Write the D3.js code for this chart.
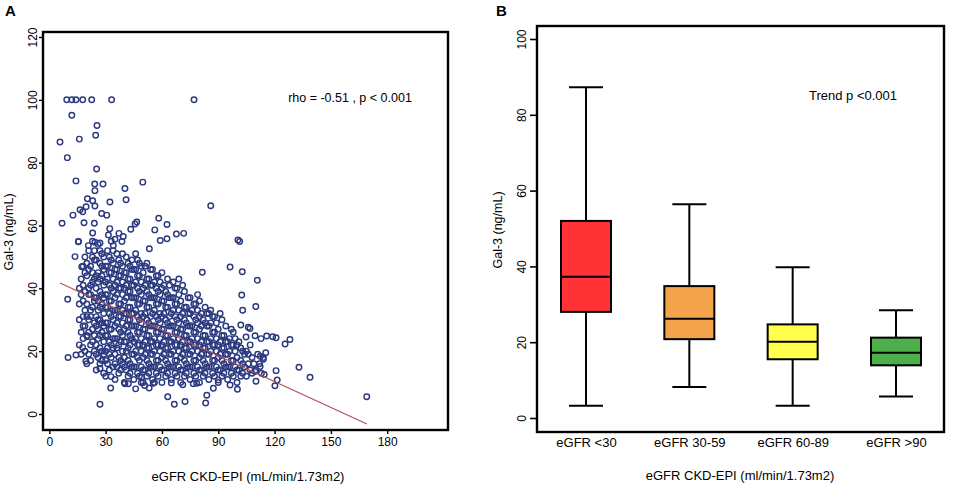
<!DOCTYPE html>
<html>
<head>
<meta charset="utf-8">
<script src="https://cdn.jsdelivr.net/npm/d3@7"></script>
<style>
  html, body { margin: 0; padding: 0; background: #fff; }
  svg { display: block; font-family: "Liberation Sans", Arial, Helvetica, sans-serif; }
</style>
</head>
<body>
<svg id="chart" width="957" height="488"></svg>
<script>
// ---------------- Panel A data (eGFR, Gal-3) ----------------
const xTicksA = [0, 30, 60, 90, 120, 150, 180];
const yTicksA = [0, 20, 40, 60, 80, 100, 120];

// scattered points outside the dense cloud
const outlierPoints = [
  [9.3,100],[12,100],[14.2,100],[17.8,100],[22.6,100],[33.2,100],[77.1,100],
  [12,95.1],[25.4,91.8],[24.7,88.7],[5.7,86.6],[16,87.5],[9.6,81.6],[25.2,78],
  [14.2,74.2],[24.2,73.2],[28.6,73.2],[24.3,71.1],[49.8,73.8],[40.3,71.8],[40.9,68.2],
  [32.3,67.5],[20.3,68.5],[23.1,67.9],[19.6,66],[24.3,66.2],[16.4,65],[17.8,64.4],
  [12.6,63.3],[27.9,63.8],[30.6,63.3],[86,66.3],[6.8,60.7],[18.5,60.9],[24,60.7],
  [32.2,59],[31.5,57],[23.1,57.6],[37.1,57.5],[35,55.6],[39.4,56.5],[43.4,58.8],
  [46.6,61.1],[45.7,60.5],[58.3,62.3],[62.7,60.3],[56.2,58.6],[67.7,57.3],[71.6,57.5],
  [59.1,55.2],[62.7,55.8],[53.3,52.6],[100.5,55.4],[101.4,54.9],[15.5,54.8],[20.8,53.6],
  [27,54.4],[34.1,53.6],[24.3,54.7],[38.7,54.9],
  [96.3,46.8],[102.8,45.3],[81.5,45.1],[110.8,42.6],[102.5,37.9],[110,34.2],[103,33],
  [102,28.3],[106,27.6],[106.9,27.2],[104.8,24.5],[109.6,24.9],[112.8,24],[115.8,24.8],
  [119,24.6],[120.8,24.3],[125.6,22.3],[128.2,23.7],[133,14.9],[138.9,11.7],[169.1,5.5],
  [120.8,13.8],[121.4,10.8],[120.2,9],[114.5,12.6],[110.1,10.4],[112.3,15.1],[114,17.4],
  [115.3,19.5],[112.4,18.4],[109.6,13.5],
  [27,3.1],[66.6,3.1],[72.3,4],[83.3,3.5],[83.9,6],[63.1,5.5],[32.7,8.3],[46,8],
  [53.2,8.3],[87.4,8.2],[100.2,7.9],[10,18],[14.2,18.8],[9.8,36.5],[27,14.5],[32.9,11.9],
  [40.3,9.6],[42.1,9.6],[19.5,16.8],[17.8,21.2],[20.2,24.6],[17.3,46.9],[13.7,50.1],
  [15.5,54.9],[96.3,9.2],[76.7,9.6],[78.5,9.8],[71.1,9.3],[65,9.9],[55.4,9.8],[50.8,9.1],
  [49.2,11.7],[90,10.8]
];

// dense cloud of points
const cloudPoints = [
  [16,22],[17,26],[18,31],[16,35],[19,39],[17,43],[18,47],[19,20],[18,24],[19,28],[16,30],[19,33],[17,38],[18,41],[19,45],[16,40],[18,36],[19,50],[17,19],[18,28],
  [20,16],[21,19],[22,22],[20,25],[23,27],[21,30],[22,33],[20,35],[24,37],[21,40],[23,42],[20,44],[22,47],[24,49],[21,52],[23,55],[22,17],[24,20],[23,23],[21,26],[24,29],[22,31],[23,34],[24,36],[21,38],[22,41],[24,43],[21,46],[23,50],[20,48],[24,25],[20,31],[22,38],[23,45],[24,52],
  [25,14],[27,16],[26,18],[28,20],[25,22],[29,23],[27,25],[26,27],[28,29],[25,31],[29,32],[27,34],[26,36],[28,38],[25,40],[29,41],[27,43],[26,45],[28,47],[25,49],[29,50],[27,52],[26,54],[28,17],[29,19],[25,19],[27,21],[26,24],[28,26],[29,28],[25,28],[27,30],[26,33],[28,35],[29,37],[25,37],[27,39],[26,42],[28,44],[29,46],[25,44],[27,48],[28,51],[26,30],[29,13],
  [30,12],[32,14],[31,16],[33,18],[30,20],[34,21],[32,23],[31,25],[33,27],[30,29],[34,30],[32,32],[31,34],[33,36],[30,38],[34,39],[32,41],[31,43],[33,45],[30,47],[34,48],[32,50],[31,52],[33,55],[34,15],[30,17],[32,19],[33,22],[31,21],[34,24],[30,25],[32,27],[31,29],[33,31],[34,33],[30,34],[32,36],[31,38],[33,40],[34,43],[30,42],[32,45],[31,47],[33,49],[34,52],
  [35,11],[37,13],[36,15],[38,17],[35,19],[39,20],[37,22],[36,24],[38,26],[35,28],[39,29],[37,31],[36,33],[38,35],[35,37],[39,38],[37,40],[36,42],[38,44],[35,46],[39,47],[37,49],[36,51],[38,14],[39,16],[35,16],[37,18],[36,21],[38,23],[39,25],[35,24],[37,27],[36,29],[38,31],[39,33],[35,33],[37,35],[36,38],[38,40],[39,42],[35,41],[37,44],[38,48],[36,46],[39,51],
  [40,10],[42,12],[41,14],[43,16],[40,18],[44,19],[42,21],[41,23],[43,25],[40,27],[44,28],[42,30],[41,32],[43,34],[40,36],[44,37],[42,39],[41,41],[43,43],[40,45],[44,46],[42,48],[41,50],[43,13],[44,15],[40,15],[42,17],[41,20],[43,22],[44,24],[40,23],[42,26],[41,28],[43,30],[44,32],[40,32],[42,34],[41,37],[43,39],[44,41],[40,40],[42,43],[43,47],[41,45],[44,49],
  [45,11],[47,13],[46,15],[48,17],[45,19],[49,20],[47,22],[46,24],[48,26],[45,28],[49,29],[47,31],[46,33],[48,35],[45,37],[49,38],[47,40],[46,42],[48,44],[45,46],[49,47],[47,49],[46,51],[48,12],[49,15],[45,15],[47,18],[46,20],[48,22],[49,24],[45,23],[47,26],[46,28],[48,30],[49,32],[45,32],[47,35],[46,37],[48,39],[49,42],[45,41],[47,44],[48,48],[46,46],[49,10],
  [50,10],[52,12],[51,14],[53,16],[50,18],[54,19],[52,21],[51,23],[53,25],[50,27],[54,28],[52,30],[51,32],[53,34],[50,36],[54,37],[52,39],[51,41],[53,43],[50,45],[54,46],[52,48],[53,13],[54,15],[50,14],[52,17],[51,19],[53,21],[54,23],[50,22],[52,25],[51,27],[53,29],[54,31],[50,31],[52,34],[51,36],[53,38],[54,41],[50,40],[52,43],[51,47],
  [55,11],[57,13],[56,15],[58,17],[55,19],[59,20],[57,22],[56,24],[58,26],[55,28],[59,29],[57,31],[56,33],[58,35],[55,37],[59,38],[57,40],[56,42],[58,44],[55,46],[58,12],[59,15],[55,15],[57,17],[56,20],[58,22],[59,24],[55,23],[57,26],[56,28],[58,30],[59,32],[55,32],[57,35],[56,37],[58,39],[59,42],[55,41],[57,44],[56,10],
  [60,10],[62,12],[61,14],[63,16],[60,18],[64,19],[62,21],[61,23],[63,25],[60,27],[64,28],[62,30],[61,32],[63,34],[60,36],[64,37],[62,39],[61,41],[63,43],[60,45],[63,13],[64,15],[60,14],[62,17],[61,19],[63,21],[64,23],[60,22],[62,25],[61,27],[63,29],[64,31],[60,31],[62,34],[61,36],[63,38],[64,41],[60,40],
  [65,11],[67,13],[66,15],[68,17],[65,19],[69,20],[67,22],[66,24],[68,26],[65,28],[69,29],[67,31],[66,33],[68,35],[65,37],[69,38],[67,40],[66,42],[68,12],[69,15],[65,15],[67,17],[66,20],[68,22],[69,24],[65,23],[67,26],[66,28],[68,30],[69,33],[65,32],[67,35],[66,37],[68,40],[69,43],
  [70,10],[72,12],[71,14],[73,16],[70,18],[74,19],[72,21],[71,23],[73,25],[70,27],[74,28],[72,30],[71,32],[73,34],[70,36],[74,37],[72,39],[73,13],[74,15],[70,14],[72,17],[71,19],[73,21],[74,23],[70,22],[72,25],[71,27],[73,29],[74,32],[70,31],[72,34],[71,41],
  [75,11],[77,13],[76,15],[78,17],[75,19],[79,20],[77,22],[76,24],[78,26],[75,28],[79,29],[77,31],[76,33],[78,35],[75,37],[78,12],[79,15],[75,15],[77,17],[76,20],[78,22],[79,24],[75,23],[77,26],[76,28],[78,30],[79,33],[75,32],[77,35],[79,38],
  [80,10],[82,12],[81,14],[83,16],[80,18],[84,19],[82,21],[81,23],[83,25],[80,27],[84,28],[82,30],[81,32],[83,34],[80,36],[83,13],[84,15],[80,14],[82,17],[81,19],[83,21],[84,23],[80,22],[82,25],[81,28],[83,29],[84,32],[80,31],
  [85,11],[87,13],[86,15],[88,17],[85,19],[89,20],[87,22],[86,24],[88,26],[85,28],[89,29],[87,31],[86,33],[88,12],[89,15],[85,15],[87,17],[86,20],[88,22],[89,24],[85,23],[87,26],[86,29],[88,31],[85,32],
  [90,10],[92,12],[91,14],[93,16],[90,18],[94,19],[92,21],[91,23],[93,25],[90,27],[94,28],[92,30],[93,13],[94,15],[90,14],[92,17],[91,19],[93,21],[94,23],[90,22],[92,25],[91,32],
  [95,11],[97,13],[96,15],[98,17],[95,19],[99,20],[97,22],[96,24],[98,26],[98,12],[99,15],[95,15],[97,17],[96,20],[98,22],[99,24],[95,23],[97,27],
  [100,10],[102,12],[101,14],[103,16],[100,18],[104,19],[102,21],[101,23],[103,13],[104,15],[100,14],[102,17],[103,20],[100,22],
  [105,12],[107,14],[106,16],[108,18],[105,20],[107,22],[108,13],[106,19],[109,16],
  [110,14],[112,16],[111,19],[113,13],[114,18]
];

// fitted regression line end points
const fitX = [5.7, 169.2];
const fitY = [41.7, -3.2];

// ---------------- Panel B data (box plots) ----------------
const categories = ["eGFR <30", "eGFR 30-59", "eGFR 60-89", "eGFR >90"];
const whiskerLow = [3.2, 8.2, 3.2, 5.7];
const q1 = [28.0, 20.8, 15.5, 13.9];
const median = [37.3, 26.2, 20.1, 17.2];
const q3 = [52.0, 34.8, 24.7, 21.2];
const whiskerHigh = [87.3, 56.4, 39.8, 28.4];
const boxColors = ["#ff3336", "#f3a44b", "#ffff4c", "#4caf4c"];
const yTicksB = [0, 20, 40, 60, 80, 100];

// ---------------- drawing ----------------
const svg = d3.select("#chart");
const navy = "#2b3a80";

// ===== Panel A =====
const xA = d3.scaleLinear().domain([0, 180]).range([49.3, 387.2]);
const yA = d3.scaleLinear().domain([0, 120]).range([414, 37]);
const frameA = {x: 43, y: 32, w: 405, h: 398};

svg.append("text").attr("x", 5).attr("y", 16)
  .attr("font-size", 15).attr("font-weight", "bold").text("A");

const gA = svg.append("g");

// points
const allPts = outlierPoints.concat(cloudPoints);
gA.append("g").selectAll("circle").data(allPts).join("circle")
  .attr("cx", d => xA(d[0])).attr("cy", d => yA(d[1])).attr("r", 2.75)
  .attr("fill", "none").attr("stroke", navy).attr("stroke-width", 1.45);

// fit line
gA.append("line")
  .attr("x1", xA(fitX[0])).attr("y1", yA(fitY[0]))
  .attr("x2", xA(fitX[1])).attr("y2", yA(fitY[1]))
  .attr("stroke", "#b4505a").attr("stroke-width", 1.2);

// frame
gA.append("rect").attr("x", frameA.x).attr("y", frameA.y)
  .attr("width", frameA.w).attr("height", frameA.h)
  .attr("fill", "none").attr("stroke", "#000").attr("stroke-width", 2.4);

// y axis A
const yAxisA = gA.append("g").attr("transform", `translate(${frameA.x},0)`)
  .call(d3.axisLeft(yA).tickValues(yTicksA).tickSize(4).tickSizeOuter(0));
yAxisA.select(".domain").remove();
yAxisA.selectAll(".tick line").attr("stroke-width", 1.4);
yAxisA.selectAll(".tick text")
  .attr("transform", "rotate(-90)")
  .attr("x", 0).attr("y", -6).attr("dy", 0)
  .attr("text-anchor", "middle")
  .attr("font-size", 12).attr("fill", "#000")
  .attr("font-family", "Liberation Sans, Arial, sans-serif");

// x axis A
const xAxisA = gA.append("g").attr("transform", `translate(0,${frameA.y + frameA.h})`)
  .call(d3.axisBottom(xA).tickValues(xTicksA).tickSize(4).tickSizeOuter(0).tickPadding(3));
xAxisA.select(".domain").remove();
xAxisA.selectAll(".tick line").attr("stroke-width", 1.4);
xAxisA.selectAll(".tick text").attr("font-size", 12).attr("fill", "#000")
  .attr("font-family", "Liberation Sans, Arial, sans-serif");

// titles A
svg.append("text").attr("x", 248).attr("y", 481).attr("text-anchor", "middle")
  .attr("font-size", 13).text("eGFR CKD-EPI (mL/min/1.73m2)");
svg.append("text").attr("transform", "translate(13,232) rotate(-90)")
  .attr("text-anchor", "middle").attr("font-size", 12.5).text("Gal-3 (ng/mL)");
svg.append("text").attr("x", 350).attr("y", 102).attr("text-anchor", "middle")
  .attr("font-size", 12.5).text("rho = -0.51 , p < 0.001");

// ===== Panel B =====
const xB = d3.scalePoint().domain(categories).range([586, 896]);
const yB = d3.scaleLinear().domain([0, 100]).range([418, 39]);
const frameB = {x: 537, y: 26, w: 407, h: 406};
const boxW = 50, capW = 34;

svg.append("text").attr("x", 496).attr("y", 16)
  .attr("font-size", 15).attr("font-weight", "bold").text("B");

const gB = svg.append("g");
const boxData = categories.map((c, i) => ({
  c, lo: whiskerLow[i], q1: q1[i], med: median[i], q3: q3[i], hi: whiskerHigh[i], col: boxColors[i]
}));

const box = gB.selectAll("g.box").data(boxData).join("g").attr("class", "box");
// whiskers
box.append("line").attr("x1", d => xB(d.c)).attr("x2", d => xB(d.c))
  .attr("y1", d => yB(d.hi)).attr("y2", d => yB(d.q3))
  .attr("stroke", "#000").attr("stroke-width", 2);
box.append("line").attr("x1", d => xB(d.c)).attr("x2", d => xB(d.c))
  .attr("y1", d => yB(d.q1)).attr("y2", d => yB(d.lo))
  .attr("stroke", "#000").attr("stroke-width", 2);
// caps
box.append("line").attr("x1", d => xB(d.c) - capW / 2).attr("x2", d => xB(d.c) + capW / 2)
  .attr("y1", d => yB(d.hi)).attr("y2", d => yB(d.hi))
  .attr("stroke", "#000").attr("stroke-width", 2);
box.append("line").attr("x1", d => xB(d.c) - capW / 2).attr("x2", d => xB(d.c) + capW / 2)
  .attr("y1", d => yB(d.lo)).attr("y2", d => yB(d.lo))
  .attr("stroke", "#000").attr("stroke-width", 2);
// box
box.append("rect").attr("x", d => xB(d.c) - boxW / 2).attr("width", boxW)
  .attr("y", d => yB(d.q3)).attr("height", d => yB(d.q1) - yB(d.q3))
  .attr("fill", d => d.col).attr("stroke", "#000").attr("stroke-width", 2);
// median
box.append("line").attr("x1", d => xB(d.c) - boxW / 2).attr("x2", d => xB(d.c) + boxW / 2)
  .attr("y1", d => yB(d.med)).attr("y2", d => yB(d.med))
  .attr("stroke", "#000").attr("stroke-width", 2);

// frame B
gB.append("rect").attr("x", frameB.x).attr("y", frameB.y)
  .attr("width", frameB.w).attr("height", frameB.h)
  .attr("fill", "none").attr("stroke", "#000").attr("stroke-width", 2.4);

// y axis B
const yAxisB = gB.append("g").attr("transform", `translate(${frameB.x},0)`)
  .call(d3.axisLeft(yB).tickValues(yTicksB).tickSize(7).tickSizeOuter(0));
yAxisB.select(".domain").remove();
yAxisB.selectAll(".tick line").attr("stroke-width", 1.6);
yAxisB.selectAll(".tick text")
  .attr("transform", "rotate(-90)")
  .attr("x", 0).attr("y", -11.5).attr("dy", 0)
  .attr("text-anchor", "middle")
  .attr("font-size", 12).attr("fill", "#000")
  .attr("font-family", "Liberation Sans, Arial, sans-serif");

// x axis B (labels only)
const xAxisB = gB.append("g").attr("transform", `translate(0,${frameB.y + frameB.h})`)
  .call(d3.axisBottom(xB).tickSize(0).tickPadding(6));
xAxisB.select(".domain").remove();
xAxisB.selectAll(".tick text").attr("font-size", 13).attr("fill", "#000")
  .attr("font-family", "Liberation Sans, Arial, sans-serif");

// titles B
svg.append("text").attr("x", 740).attr("y", 480).attr("text-anchor", "middle")
  .attr("font-size", 13).text("eGFR CKD-EPI (ml/min/1.73m2)");
svg.append("text").attr("transform", "translate(502,230) rotate(-90)")
  .attr("text-anchor", "middle").attr("font-size", 12.5).text("Gal-3 (ng/mL)");
svg.append("text").attr("x", 853).attr("y", 100).attr("text-anchor", "middle")
  .attr("font-size", 13).text("Trend p <0.001");
</script>
</body>
</html>
